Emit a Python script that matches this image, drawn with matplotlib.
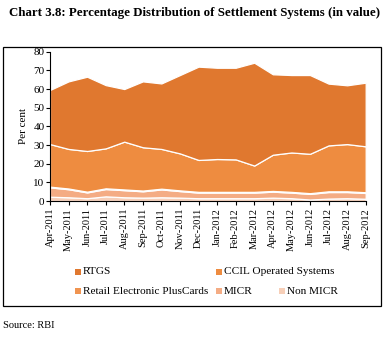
import matplotlib
matplotlib.use('Agg')
import matplotlib.pyplot as plt
from matplotlib.patches import Rectangle
import numpy as np

matplotlib.rcParams['font.family'] = ['Liberation Serif', 'DejaVu Serif']

months = ['Apr-2011', 'May-2011', 'Jun-2011', 'Jul-2011', 'Aug-2011', 'Sep-2011',
          'Oct-2011', 'Nov-2011', 'Dec-2011', 'Jan-2012', 'Feb-2012', 'Mar-2012',
          'Apr-2012', 'May-2012', 'Jun-2012', 'Jul-2012', 'Aug-2012', 'Sep-2012']

# stacked from the bottom up
non_micr = [2.3, 2.0, 1.5, 2.5, 2.0, 1.8, 2.0, 1.8, 1.5, 1.5, 1.5, 1.5, 1.8, 1.5, 0.8, 1.3, 1.5, 1.2]
micr = [5.0, 4.3, 3.1, 3.9, 3.8, 3.4, 4.2, 3.5, 3.0, 3.0, 3.0, 3.0, 3.2, 3.0, 3.0, 3.5, 3.3, 3.1]
retail = [0.4, 0.4, 0.4, 0.4, 0.4, 0.4, 0.4, 0.4, 0.4, 0.4, 0.4, 0.4, 0.4, 0.4, 0.4, 0.4, 0.4, 0.4]
ccil = [22.8, 21.2, 21.8, 21.4, 25.6, 23.2, 21.3, 19.8, 17.1, 17.6, 17.4, 14.1, 19.4, 21.1, 21.1, 24.6, 25.3, 24.6]
rtgs = [29.0, 36.2, 39.8, 33.9, 28.2, 35.3, 35.1, 42.0, 50.0, 48.9, 49.1, 55.1, 43.1, 41.5, 42.2, 33.1, 31.5, 34.1]

labels = ['Non MICR', 'MICR', 'Retail Electronic PlusCards', 'CCIL Operated Systems', 'RTGS']
colors = ['#F7CFB8', '#F4AC84', '#F09450', '#EE8C40', '#E0782F']

fig = plt.figure(figsize=(3.83, 3.38), dpi=100)
ax = fig.add_axes([0.1305, 0.4053, 0.8243, 0.4417])

x = np.arange(len(months))
ax.stackplot(x, non_micr, micr, retail, ccil, rtgs, colors=colors,
             edgecolor='white', linewidth=0.9)

ax.set_xlim(0, len(months) - 1)
ax.set_ylim(0, 80)
ax.set_yticks(range(0, 81, 10))
ax.set_xticks(x)
ax.set_xticklabels(months, rotation=90, fontsize=7.5)
ax.tick_params(axis='y', labelsize=8, length=3, pad=1)
ax.tick_params(axis='x', length=3, pad=2)
ax.set_ylabel('Per cent', fontsize=8, labelpad=4)
for s in ['top', 'right']:
    ax.spines[s].set_visible(False)
ax.spines['left'].set_linewidth(0.8)
ax.spines['bottom'].set_linewidth(0.8)

# outer frame
fig.patches.append(Rectangle((3 / 383, 1 - 306 / 338), 378 / 383, 259 / 338,
                             transform=fig.transFigure, fill=False,
                             edgecolor='black', linewidth=0.9))

fig.text(9 / 383, 1 - 13 / 338,
         'Chart 3.8: Percentage Distribution of Settlement Systems (in value)',
         fontsize=9.25, fontweight='bold', va='center', ha='left')

# legend, laid out by hand like the original
leg = [('RTGS', 4, 75, 272), ('CCIL Operated Systems', 3, 216, 272),
       ('Retail Electronic PlusCards', 2, 75, 291), ('MICR', 1, 216, 291),
       ('Non MICR', 0, 279, 291)]
for name, ci, px, py in leg:
    fig.patches.append(Rectangle((px / 383, 1 - (py + 3) / 338), 6 / 383, 6 / 338,
                                 transform=fig.transFigure, facecolor=colors[ci],
                                 edgecolor='none'))
    fig.text((px + 8) / 383, 1 - py / 338, name, fontsize=8.1, va='center', ha='left')

fig.text(3 / 383, 1 - 325 / 338, 'Source: RBI', fontsize=7.5, va='center', ha='left')

fig.savefig('out.png', dpi=100)
